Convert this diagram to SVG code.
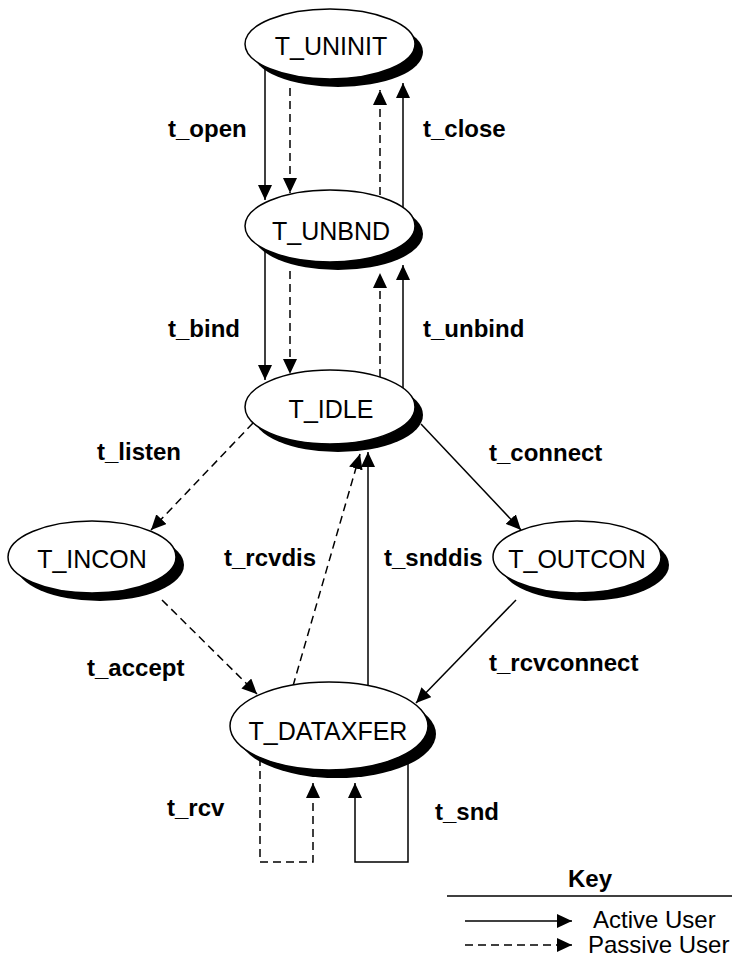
<svg xmlns="http://www.w3.org/2000/svg" width="735" height="966" viewBox="0 0 735 966">
<style>
.bg{fill:#fff}
.sh{fill:#000}
.el{fill:#fff;stroke:#000;stroke-width:1.5}
.nt{font-family:"Liberation Sans",Arial,sans-serif;font-size:25px;fill:#000;text-anchor:middle}
.lb{font-family:"Liberation Sans",Arial,sans-serif;font-size:24px;font-weight:bold;fill:#000}
.kt{font-family:"Liberation Sans",Arial,sans-serif;font-size:24px;fill:#000}
.a{fill:none;stroke:#000;stroke-width:1.5;marker-end:url(#ah)}
.p{fill:none;stroke:#000;stroke-width:1.5;stroke-dasharray:8,5;marker-end:url(#ah)}
</style>
<defs>
<marker id="ah" markerUnits="userSpaceOnUse" markerWidth="15" markerHeight="14" refX="15" refY="7" orient="auto">
<path d="M0,0 L15,7 L0,14 z" fill="#000"/>
</marker>
</defs>
<rect class="bg" x="0" y="0" width="735" height="966"/>
<g id="connectors">
<line class="a" x1="265" y1="66" x2="265" y2="200"/>
<line class="p" x1="290" y1="88" x2="290" y2="193"/>
<line class="p" x1="380" y1="195" x2="380" y2="90"/>
<line class="a" x1="403" y1="208" x2="403" y2="83"/>
<line class="a" x1="265" y1="249" x2="265" y2="380"/>
<line class="p" x1="290" y1="271" x2="290" y2="374"/>
<line class="p" x1="380" y1="377" x2="380" y2="273"/>
<line class="a" x1="403" y1="388" x2="403" y2="265"/>
<line class="p" x1="253" y1="423" x2="151" y2="530"/>
<line class="a" x1="421" y1="424" x2="521" y2="530"/>
<line class="p" x1="162" y1="600" x2="257" y2="694"/>
<line class="a" x1="516" y1="600" x2="416" y2="703"/>
<line class="p" x1="293" y1="686" x2="360" y2="454"/>
<line class="a" x1="368" y1="686" x2="368" y2="452"/>
<path class="p" d="M260,758 V862 H313 V783"/>
<path class="a" d="M408,755 V862 H355 V783"/>
</g>
<g id="T_UNINIT">
<ellipse class="sh" cx="338" cy="52" rx="85" ry="35"/>
<ellipse class="el" cx="330" cy="44" rx="85" ry="35"/>
<text class="nt" x="331" y="55">T_UNINIT</text>
</g>
<g id="T_UNBND">
<ellipse class="sh" cx="338" cy="234" rx="85" ry="36"/>
<ellipse class="el" cx="330" cy="226" rx="85" ry="36"/>
<text class="nt" x="331" y="240">T_UNBND</text>
</g>
<g id="T_IDLE">
<ellipse class="sh" cx="338" cy="415" rx="85" ry="37"/>
<ellipse class="el" cx="330" cy="407" rx="85" ry="37"/>
<text class="nt" x="331" y="418">T_IDLE</text>
</g>
<g id="T_INCON">
<ellipse class="sh" cx="100" cy="565" rx="84" ry="36"/>
<ellipse class="el" cx="92" cy="557" rx="84" ry="36"/>
<text class="nt" x="92" y="568">T_INCON</text>
</g>
<g id="T_OUTCON">
<ellipse class="sh" cx="585" cy="565" rx="84" ry="36"/>
<ellipse class="el" cx="577" cy="557" rx="84" ry="36"/>
<text class="nt" x="577" y="568">T_OUTCON</text>
</g>
<g id="T_DATAXFER">
<ellipse class="sh" cx="337" cy="734" rx="99" ry="44"/>
<ellipse class="el" cx="329" cy="726" rx="99" ry="44"/>
<text class="nt" x="328" y="740">T_DATAXFER</text>
</g>
<g id="labels">
<text class="lb" x="168" y="137">t_open</text>
<text class="lb" x="423" y="137">t_close</text>
<text class="lb" x="168" y="337">t_bind</text>
<text class="lb" x="423" y="337">t_unbind</text>
<text class="lb" x="97" y="460">t_listen</text>
<text class="lb" x="489" y="461">t_connect</text>
<text class="lb" x="224" y="566">t_rcvdis</text>
<text class="lb" x="384" y="566">t_snddis</text>
<text class="lb" x="87" y="676">t_accept</text>
<text class="lb" x="489" y="671">t_rcvconnect</text>
<text class="lb" x="167" y="816">t_rcv</text>
<text class="lb" x="435" y="820">t_snd</text>
</g>
<g id="key">
<text class="lb" x="590" y="887" text-anchor="middle">Key</text>
<line x1="447" y1="896" x2="732" y2="896" stroke="#000" stroke-width="1.5"/>
<line class="a" x1="465" y1="921" x2="572" y2="921"/>
<text class="kt" x="593" y="928">Active User</text>
<line class="p" x1="465" y1="945" x2="572" y2="945"/>
<text class="kt" x="588" y="953">Passive User</text>
</g>
</svg>
